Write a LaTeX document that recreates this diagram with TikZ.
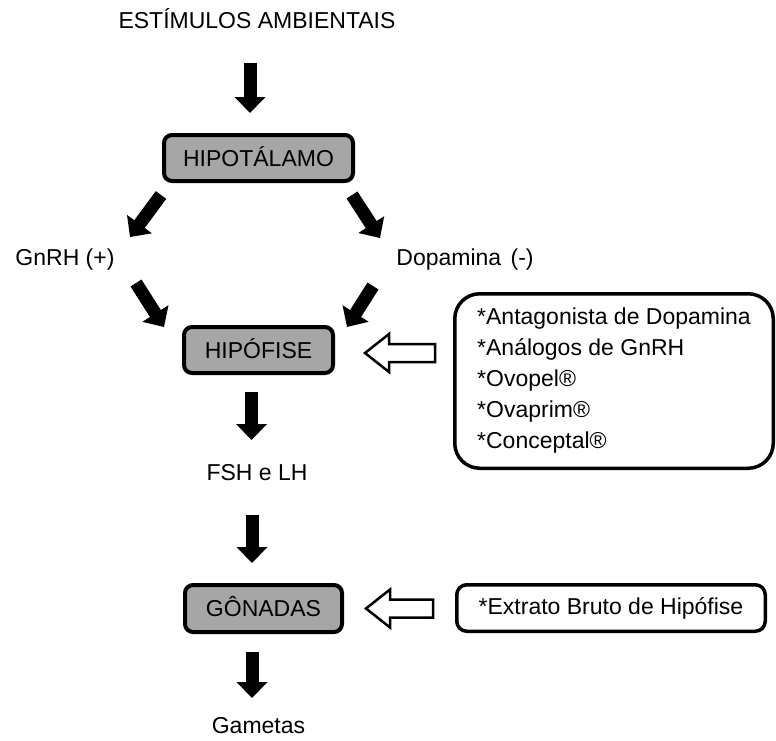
\documentclass[tikz,border=0pt]{standalone}
\usepackage{fontspec}
\setmainfont{Liberation Sans}
\usetikzlibrary{arrows.meta,calc}
\begin{document}
\begin{tikzpicture}[x=1pt,y=-1pt,
  txt/.style={font=\fontsize{23}{31}\selectfont, inner sep=0, text height=16.5, text depth=0},
  organ/.style={draw=black, line width=4, rounded corners=8, fill=gray!70, inner sep=0,
    font=\fontsize{23}{31}\selectfont, text height=16.5, text depth=0},
  drugbox/.style={draw=black, line width=3.5, fill=white, inner sep=0,
    font=\fontsize{23}{31}\selectfont},
  blk/.style={line width=13, -{Triangle[length=16pt,width=30pt]}},
  hollow/.style={draw=black, line width=2.5, fill=white, line join=miter}]
\useasboundingbox (0,0) rectangle (776,740);

% text labels
\node[txt] (estim) at (257,20.5) {ESTÍMULOS AMBIENTAIS};
\node[txt] (gnrh) at (65,257) {GnRH (+)};
\node[txt] (dopa) at (465,257) {Dopamina\hspace{3pt} (-)};
\node[txt] (fsh) at (257,472) {FSH e LH};
\node[txt] (gam) at (258.5,725) {Gametas};

% organ boxes
\node[organ, minimum width=189, minimum height=46] (hipot) at (258.5,158) {HIPOTÁLAMO};
\node[organ, minimum width=149, minimum height=46] (hipof) at (258.5,350) {HIPÓFISE};
\node[organ, minimum width=157, minimum height=47] (gona) at (263.5,608.5) {GÔNADAS};

% drug boxes
\node[drugbox, rounded corners=25, minimum width=318.5, minimum height=174.5, align=left] (drugs) at (614,381)
  {*Antagonista de Dopamina\\*Análogos de GnRH\\*Ovopel®\\*Ovaprim®\\*Conceptal®};
\node[drugbox, rounded corners=10, minimum width=308.5, minimum height=46.5] (extr) at (611,608)
  {*Extrato Bruto de Hipófise};

% black arrows
\coordinate (a1s) at (250,63);   \coordinate (a1e) at (250,113);
\coordinate (a2s) at (161,195);  \coordinate (a2e) at (130,237);
\coordinate (a3s) at (352,195);  \coordinate (a3e) at (380,238);
\coordinate (a4s) at (136,283);  \coordinate (a4e) at (164,327);
\coordinate (a5s) at (373,286);  \coordinate (a5e) at (347,327);
\coordinate (a6s) at (251.5,392);\coordinate (a6e) at (251.5,440);
\coordinate (a7s) at (252,515);  \coordinate (a7e) at (252,563);
\coordinate (a8s) at (252,652);  \coordinate (a8e) at (252,698);
\draw[blk] (a1s) -- (a1e);
\draw[blk] (a2s) -- (a2e);
\draw[blk] (a3s) -- (a3e);
\draw[blk] (a4s) -- (a4e);
\draw[blk] (a5s) -- (a5e);
\draw[blk] (a6s) -- (a6e);
\draw[blk] (a7s) -- (a7e);
\draw[blk] (a8s) -- (a8e);

% hollow arrows
\coordinate (h1) at ($(hipof.east)+(30,3)$);
\coordinate (h2) at ($(gona.east)+(22,0)$);
\draw[hollow, shift={(h1)}] (0,0) -- (24,-19) -- (24,-9) -- (70,-9) -- (70,9) -- (24,9) -- (24,19) -- cycle;
\draw[hollow, shift={(h2)}] (0,0) -- (24,-19) -- (24,-9) -- (67,-9) -- (67,9) -- (24,9) -- (24,19) -- cycle;
\end{tikzpicture}
\end{document}
